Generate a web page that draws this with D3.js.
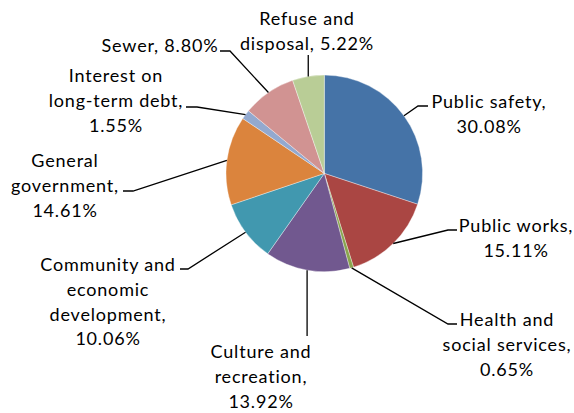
<!DOCTYPE html>
<html>
<head>
<meta charset="utf-8">
<script src="https://cdn.jsdelivr.net/npm/d3@7/dist/d3.min.js"></script>
<style>
  html, body { margin: 0; padding: 0; background: #fff; }
  svg { display: block; }
  .lbl { font-family: Lato, "Open Sans", sans-serif; font-size: 18px; letter-spacing: 0.8px; fill: #000; }
</style>
</head>
<body>
<svg id="chart" width="574" height="413"></svg>
<script>
// Spending shares by function (percent of total)
const categories = [
  "Public safety", "Public works", "Health and social services",
  "Culture and recreation", "Community and economic development",
  "General government", "Interest on long-term debt", "Sewer", "Refuse and disposal"
];
const shares = [30.08, 15.11, 0.65, 13.92, 10.06, 14.61, 1.55, 8.80, 5.22];
const colors = ["#4573A7", "#AA4643", "#89A54E", "#71588F", "#4198AF",
                "#DB843D", "#93A9CF", "#D19392", "#B9CD96"];
// Wrapped label text; %v is replaced by the formatted share
const labelLines = [
  ["Public safety,", "%v"],
  ["Public works,", "%v"],
  ["Health and", "social services,", "%v"],
  ["Culture and", "recreation,", "%v"],
  ["Community and", "economic", "development,", "%v"],
  ["General", "government,", "%v"],
  ["Interest on", "long-term debt,", "%v"],
  ["Sewer, %v"],
  ["Refuse and", "disposal, %v"]
];

// Label layout: text centre x, first baseline y, leader elbow and end points
const labelLayout = [
  { x: 489, y: 108, elbow: [418, 106], end: [428, 106] },
  { x: 516, y: 232, elbow: [448, 230], end: [457, 230] },
  { x: 507, y: 326, elbow: [448, 324], end: [457, 324] },
  { x: 261, y: 358, elbow: null, end: [null, 336] },
  { x: 108, y: 271, elbow: [188, 269], end: [180, 269] },
  { x: 65,  y: 167, elbow: [133, 191], end: [123, 191] },
  { x: 116, y: 82,  elbow: [197, 107], end: [186, 107] },
  { x: 160, y: 52,  elbow: [230, 51],  end: [220, 51] },
  { x: 307, y: 25,  elbow: null, end: [null, 55] }
];
const lineGap = 24.8;

const cx = 324.3, cy = 173.4, radius = 98.3;
const fmt = d3.format(".2f");

const svg = d3.select("#chart");
const g = svg.append("g").attr("transform", `translate(${cx},${cy})`);

const pie = d3.pie().sort(null).value(d => d.value);
const arcs = pie(shares.map((v, i) => ({ name: categories[i], value: v, i })));

const arc = d3.arc().innerRadius(0).outerRadius(radius);
const edge = d3.arc().innerRadius(radius).outerRadius(radius);

g.selectAll("path.slice")
  .data(arcs)
  .join("path")
  .attr("class", "slice")
  .attr("d", arc)
  .attr("fill", d => colors[d.data.i])
  .attr("stroke", "#ffffff")
  .attr("stroke-opacity", 0.6)
  .attr("stroke-width", 0.6);

// Leader lines from the rim to each label
const lineGen = d3.line();
svg.selectAll("path.leader")
  .data(arcs)
  .join("path")
  .attr("class", "leader")
  .attr("fill", "none")
  .attr("stroke", "#000")
  .attr("stroke-width", 1.3)
  .attr("d", d => {
    const L = labelLayout[d.data.i];
    const c = edge.centroid(d);
    const start = [cx + c[0], cy + c[1]];
    const pts = [start];
    if (L.elbow) pts.push(L.elbow);
    pts.push([L.end[0] == null ? start[0] : L.end[0], L.end[1]]);
    return lineGen(pts);
  });

// Labels
const labels = svg.selectAll("text.lbl")
  .data(arcs)
  .join("text")
  .attr("class", "lbl")
  .attr("text-anchor", "middle")
  .attr("x", d => labelLayout[d.data.i].x)
  .attr("y", d => labelLayout[d.data.i].y);

labels.selectAll("tspan")
  .data(d => labelLines[d.data.i].map((s, k) => ({
    text: s.replace("%v", fmt(d.data.value) + "%"),
    k, x: labelLayout[d.data.i].x
  })))
  .join("tspan")
  .attr("x", t => t.x)
  .attr("dy", t => t.k === 0 ? 0 : lineGap)
  .text(t => t.text);
</script>
</body>
</html>
